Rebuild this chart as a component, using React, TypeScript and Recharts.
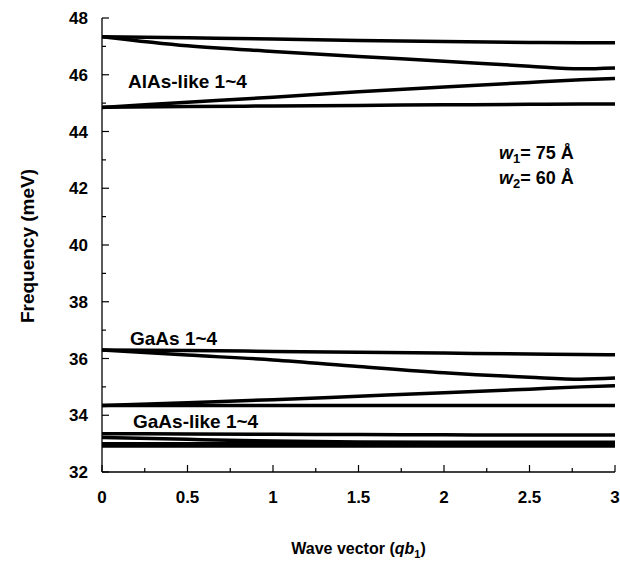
import React from "react";
import { LineChart, Line, XAxis, YAxis, Label } from "recharts";

// wave vector samples (qb1)
const waveVector = [0, 0.5, 1, 1.5, 2, 2.5, 2.8, 3];

// AlAs-like 1~4 branches (meV)
const alasLike1 = [47.34, 47.3, 47.26, 47.21, 47.17, 47.14, 47.13, 47.13];
const alasLike2 = [47.34, 47.02, 46.82, 46.64, 46.48, 46.3, 46.21, 46.24];
const alasLike3 = [44.85, 45.03, 45.21, 45.4, 45.57, 45.73, 45.82, 45.87];
const alasLike4 = [44.85, 44.88, 44.9, 44.92, 44.94, 44.96, 44.97, 44.97];

// GaAs 1~4 branches
const gaas1 = [36.3, 36.28, 36.25, 36.22, 36.19, 36.16, 36.14, 36.13];
const gaas2 = [36.3, 36.12, 35.95, 35.72, 35.5, 35.34, 35.27, 35.31];
const gaas3 = [34.34, 34.44, 34.55, 34.67, 34.79, 34.92, 35.0, 35.04];
const gaas4 = [34.34, 34.34, 34.34, 34.34, 34.34, 34.34, 34.34, 34.34];

// GaAs-like 1~4 branches
const gaasLike1 = [33.35, 33.34, 33.33, 33.32, 33.31, 33.3, 33.3, 33.3];
const gaasLike2 = [33.22, 33.15, 33.09, 33.06, 33.05, 33.05, 33.05, 33.05];
const gaasLike3 = [33.0, 33.0, 33.0, 33.0, 33.0, 33.0, 33.0, 33.0];
const gaasLike4 = [32.92, 32.92, 32.92, 32.92, 32.92, 32.92, 32.92, 32.92];

const xTicks = [0, 0.25, 0.5, 0.75, 1, 1.25, 1.5, 1.75, 2, 2.25, 2.5, 2.75, 3];
const yTicks = [32, 33, 34, 35, 36, 37, 38, 39, 40, 41, 42, 43, 44, 45, 46, 47, 48];

const branches: Record<string, number[]> = {
    alas1: alasLike1,
    alas2: alasLike2,
    alas3: alasLike3,
    alas4: alasLike4,
    gaas1,
    gaas2,
    gaas3,
    gaas4,
    gl1: gaasLike1,
    gl2: gaasLike2,
    gl3: gaasLike3,
    gl4: gaasLike4,
};

const chartData = waveVector.map((q, i) => {
    const row: Record<string, number> = { q };
    Object.keys(branches).forEach(k => {
        row[k] = branches[k][i];
    });
    return row;
});

const FONT = '"Liberation Sans", Arial, Helvetica, sans-serif';

const isHalf = (v: number) => Math.abs(v * 2 - Math.round(v * 2)) < 1e-6;

function BottomTick(props: any) {
    const { x, y, payload } = props;
    const v = payload.value as number;
    const major = isHalf(v);
    return (
        <g>
            <line x1={x} x2={x} y1={y} y2={y - (major ? 7 : 4)} stroke="#000" strokeWidth={1.2} />
            {major && (
                <text x={x} y={y + 31} textAnchor="middle" fontFamily={FONT} fontWeight={700} fontSize={17} fill="#000">
                    {String(v)}
                </text>
            )}
        </g>
    );
}

function TopTick(props: any) {
    const { x, y, payload } = props;
    const major = isHalf(payload.value);
    return <line x1={x} x2={x} y1={y} y2={y + (major ? 7 : 4)} stroke="#000" strokeWidth={1.2} />;
}

function LeftTick(props: any) {
    const { x, y, payload } = props;
    const v = payload.value as number;
    const major = v % 2 === 0;
    return (
        <g>
            <line x1={x} x2={x + (major ? 7 : 4)} y1={y} y2={y} stroke="#000" strokeWidth={1.2} />
            {major && (
                <text x={x - 14} y={y + 6} textAnchor="end" fontFamily={FONT} fontWeight={700} fontSize={17} fill="#000">
                    {String(v)}
                </text>
            )}
        </g>
    );
}

function RightTick(props: any) {
    const { x, y, payload } = props;
    const major = payload.value % 2 === 0;
    return <line x1={x} x2={x - (major ? 7 : 4)} y1={y} y2={y} stroke="#000" strokeWidth={1.2} />;
}

const note: React.CSSProperties = {
    position: "absolute",
    fontFamily: FONT,
    fontWeight: 700,
    fontSize: 19,
    lineHeight: "19px",
    whiteSpace: "nowrap",
    color: "#000",
};

const sub: React.CSSProperties = { fontSize: "0.72em", verticalAlign: "-0.3em", lineHeight: 0 };

export default function App() {
    return (
        <div style={{ position: "absolute", left: 0, top: 0, width: 620, height: 579, background: "#fff" }}>
            <LineChart width={620} height={579} data={chartData} margin={{ top: 18, right: 5, bottom: 0, left: 0 }}>
                <XAxis
                    dataKey="q"
                    type="number"
                    domain={[0, 3]}
                    ticks={xTicks}
                    interval={0}
                    height={107}
                    tickSize={0}
                    tickMargin={0}
                    tickLine={false}
                    axisLine={{ stroke: "#000", strokeWidth: 1.3 }}
                    tick={<BottomTick />}
                >
                    <Label
                        content={(p: any) => {
                            const vb = p.viewBox;
                            return (
                                <text
                                    x={vb.x + vb.width / 2}
                                    y={vb.y + 82}
                                    textAnchor="middle"
                                    fontFamily={FONT}
                                    fontWeight={700}
                                    fontSize={16}
                                    fill="#000"
                                >
                                    Wave vector (<tspan fontStyle="italic">qb</tspan>
                                    <tspan fontSize={11} dy={4}>1</tspan>
                                    <tspan dy={-4}>)</tspan>
                                </text>
                            );
                        }}
                    />
                </XAxis>
                <XAxis
                    xAxisId="top"
                    orientation="top"
                    type="number"
                    dataKey="q"
                    domain={[0, 3]}
                    ticks={xTicks}
                    interval={0}
                    height={0}
                    tickSize={0}
                    tickMargin={0}
                    tickLine={false}
                    axisLine={{ stroke: "#000", strokeWidth: 1.3 }}
                    tick={<TopTick />}
                />
                <YAxis
                    type="number"
                    domain={[32, 48]}
                    ticks={yTicks}
                    interval={0}
                    width={102}
                    tickSize={0}
                    tickMargin={0}
                    tickLine={false}
                    axisLine={{ stroke: "#000", strokeWidth: 1.3 }}
                    tick={<LeftTick />}
                >
                    <Label
                        content={() => (
                            <text
                                x={0}
                                y={0}
                                transform="translate(34 246) rotate(-90)"
                                textAnchor="middle"
                                fontFamily={FONT}
                                fontWeight={700}
                                fontSize={19}
                                fill="#000"
                            >
                                Frequency (meV)
                            </text>
                        )}
                    />
                </YAxis>
                <YAxis
                    yAxisId="right"
                    orientation="right"
                    type="number"
                    domain={[32, 48]}
                    ticks={yTicks}
                    interval={0}
                    width={0}
                    tickSize={0}
                    tickMargin={0}
                    tickLine={false}
                    axisLine={{ stroke: "#000", strokeWidth: 1.3 }}
                    tick={<RightTick />}
                />
                {Object.keys(branches).map(k => (
                    <Line
                        key={k}
                        type="monotone"
                        dataKey={k}
                        stroke="#000"
                        strokeWidth={3.5}
                        dot={false}
                        activeDot={false}
                        isAnimationActive={false}
                    />
                ))}
            </LineChart>

            <div style={{ ...note, left: 128, top: 72 }}>AlAs-like 1~4</div>
            <div style={{ ...note, left: 130, top: 329 }}>GaAs 1~4</div>
            <div style={{ ...note, left: 133, top: 412 }}>GaAs-like 1~4</div>
            <div style={{ ...note, left: 499, top: 144, fontSize: 18 }}>
                <i>w</i><span style={sub}>1</span>= 75 Å
            </div>
            <div style={{ ...note, left: 499, top: 169, fontSize: 18 }}>
                <i>w</i><span style={sub}>2</span>= 60 Å
            </div>
        </div>
    );
}
